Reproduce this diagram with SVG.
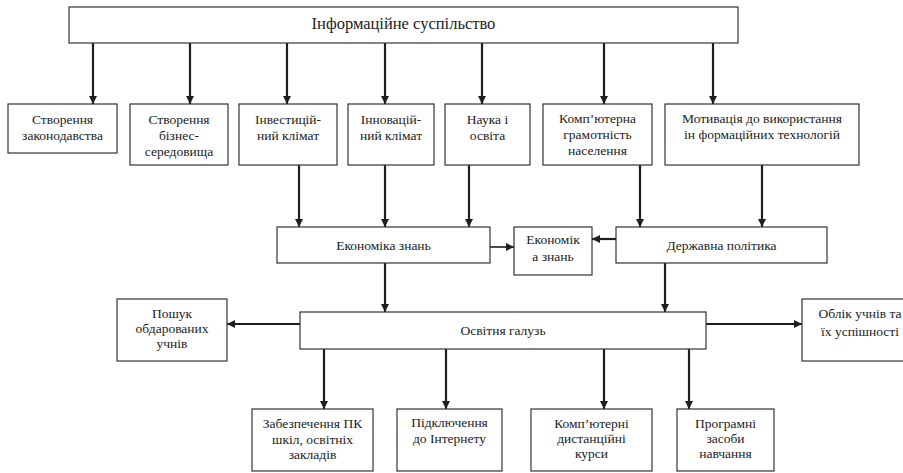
<svg xmlns="http://www.w3.org/2000/svg" width="903" height="473" viewBox="0 0 903 473">
  <defs>
    <marker id="arrow" markerUnits="userSpaceOnUse" markerWidth="9" markerHeight="9" refX="8" refY="4" orient="auto">
      <path d="M0,0 L8,4 L0,8 Z" fill="#1e1e1e"/>
    </marker>
    <style>
      .box { fill: #ffffff; stroke: #333333; stroke-width: 1.2; }
      .t { font-family: "Liberation Serif", "Times New Roman", serif; font-size: 13.5px; fill: #222222; text-anchor: middle; }
      .title { font-size: 16.5px; }
      .link { stroke: #1e1e1e; stroke-width: 2.2; fill: none; marker-end: url(#arrow); }
      .thin { stroke-width: 1.6; }
    </style>
  </defs>
  <rect width="903" height="473" fill="#ffffff"/>

  <!-- connectors -->
  <g id="connectors">
    <line class="link" x1="93" y1="43" x2="93" y2="104"/>
    <line class="link" x1="190" y1="43" x2="190" y2="104"/>
    <line class="link" x1="287" y1="43" x2="287" y2="104"/>
    <line class="link" x1="385" y1="43" x2="385" y2="104"/>
    <line class="link" x1="482" y1="43" x2="482" y2="104"/>
    <line class="link" x1="604" y1="43" x2="604" y2="104"/>
    <line class="link" x1="713" y1="43" x2="713" y2="104"/>

    <line class="link" x1="299" y1="165" x2="299" y2="227"/>
    <line class="link" x1="385" y1="165" x2="385" y2="227"/>
    <line class="link" x1="469" y1="165" x2="469" y2="227"/>
    <line class="link" x1="640" y1="165" x2="640" y2="227"/>
    <line class="link" x1="762" y1="165" x2="762" y2="227"/>

    <line class="link thin" x1="490" y1="247" x2="514" y2="247"/>
    <line class="link" x1="616" y1="239" x2="592" y2="239"/>

    <line class="link" x1="385" y1="263" x2="385" y2="312"/>
    <line class="link" x1="665" y1="263" x2="665" y2="312"/>

    <line class="link" x1="300" y1="324" x2="227" y2="324"/>
    <line class="link" x1="706" y1="324" x2="802" y2="324"/>

    <line class="link" x1="324" y1="349" x2="324" y2="409"/>
    <line class="link" x1="446" y1="349" x2="446" y2="409"/>
    <line class="link" x1="604" y1="349" x2="604" y2="409"/>
    <line class="link" x1="689" y1="349" x2="689" y2="409"/>
  </g>

  <!-- top level -->
  <g id="info-society">
    <rect class="box" x="69" y="7" width="669" height="36"/>
    <text class="t title" x="403.5" y="28.5">Інформаційне суспільство</text>
  </g>

  <!-- first row -->
  <g id="legislation">
    <rect class="box" x="8" y="104" width="109" height="49"/>
    <text class="t" x="62.5" y="124">Створення</text>
    <text class="t" x="62.5" y="140">законодавства</text>
  </g>
  <g id="business-env">
    <rect class="box" x="130" y="104" width="98" height="61"/>
    <text class="t" x="179" y="124">Створення</text>
    <text class="t" x="179" y="140">бізнес-</text>
    <text class="t" x="179" y="155.5">середовища</text>
  </g>
  <g id="investment">
    <rect class="box" x="239" y="104" width="98" height="61"/>
    <text class="t" x="288" y="124">Інвестицій-</text>
    <text class="t" x="288" y="140">ний клімат</text>
  </g>
  <g id="innovation">
    <rect class="box" x="348" y="104" width="86" height="61"/>
    <text class="t" x="391" y="124">Інновацій-</text>
    <text class="t" x="391" y="140">ний клімат</text>
  </g>
  <g id="science">
    <rect class="box" x="445" y="104" width="85" height="61"/>
    <text class="t" x="487.5" y="124">Наука і</text>
    <text class="t" x="487.5" y="140">освіта</text>
  </g>
  <g id="literacy">
    <rect class="box" x="543" y="104" width="109" height="61"/>
    <text class="t" x="597.5" y="123">Комп’ютерна</text>
    <text class="t" x="597.5" y="139">грамотність</text>
    <text class="t" x="597.5" y="155">населення</text>
  </g>
  <g id="motivation">
    <rect class="box" x="665" y="104" width="194" height="61"/>
    <text class="t" x="762" y="123">Мотивація до використання</text>
    <text class="t" x="762" y="139">ін формаційних технологій</text>
  </g>

  <!-- middle row -->
  <g id="knowledge-economy">
    <rect class="box" x="277" y="227" width="213" height="36"/>
    <text class="t" x="383.5" y="249.5">Економіка знань</text>
  </g>
  <g id="knowledge-economy-2">
    <rect class="box" x="514" y="227" width="78" height="48"/>
    <text class="t" x="553" y="244">Економік</text>
    <text class="t" x="553" y="261">а знань</text>
  </g>
  <g id="state-policy">
    <rect class="box" x="616" y="227" width="211" height="36"/>
    <text class="t" x="721.5" y="249.5">Державна політика</text>
  </g>

  <!-- education row -->
  <g id="gifted">
    <rect class="box" x="117" y="299" width="110" height="62"/>
    <text class="t" x="172" y="318">Пошук</text>
    <text class="t" x="172" y="333">обдарованих</text>
    <text class="t" x="172" y="348">учнів</text>
  </g>
  <g id="education">
    <rect class="box" x="300" y="312" width="406" height="37"/>
    <text class="t" x="503" y="334.5">Освітня галузь</text>
  </g>
  <g id="records">
    <rect class="box" x="802" y="299" width="116" height="62"/>
    <text class="t" x="860" y="318">Облік учнів та</text>
    <text class="t" x="860" y="336">їх успішності</text>
  </g>

  <!-- bottom row -->
  <g id="pc-supply">
    <rect class="box" x="252" y="409" width="121" height="62"/>
    <text class="t" x="312.5" y="428">Забезпечення ПК</text>
    <text class="t" x="312.5" y="444">шкіл, освітніх</text>
    <text class="t" x="312.5" y="459">закладів</text>
  </g>
  <g id="internet">
    <rect class="box" x="397" y="409" width="105" height="62"/>
    <text class="t" x="449.5" y="427">Підключення</text>
    <text class="t" x="449.5" y="443">до Інтернету</text>
  </g>
  <g id="distance-courses">
    <rect class="box" x="531" y="409" width="121" height="62"/>
    <text class="t" x="591.5" y="428">Комп’ютерні</text>
    <text class="t" x="591.5" y="443">дистанційні</text>
    <text class="t" x="591.5" y="458">курси</text>
  </g>
  <g id="software">
    <rect class="box" x="677" y="409" width="97" height="62"/>
    <text class="t" x="725.5" y="428">Програмні</text>
    <text class="t" x="725.5" y="443">засоби</text>
    <text class="t" x="725.5" y="458">навчання</text>
  </g>
</svg>
